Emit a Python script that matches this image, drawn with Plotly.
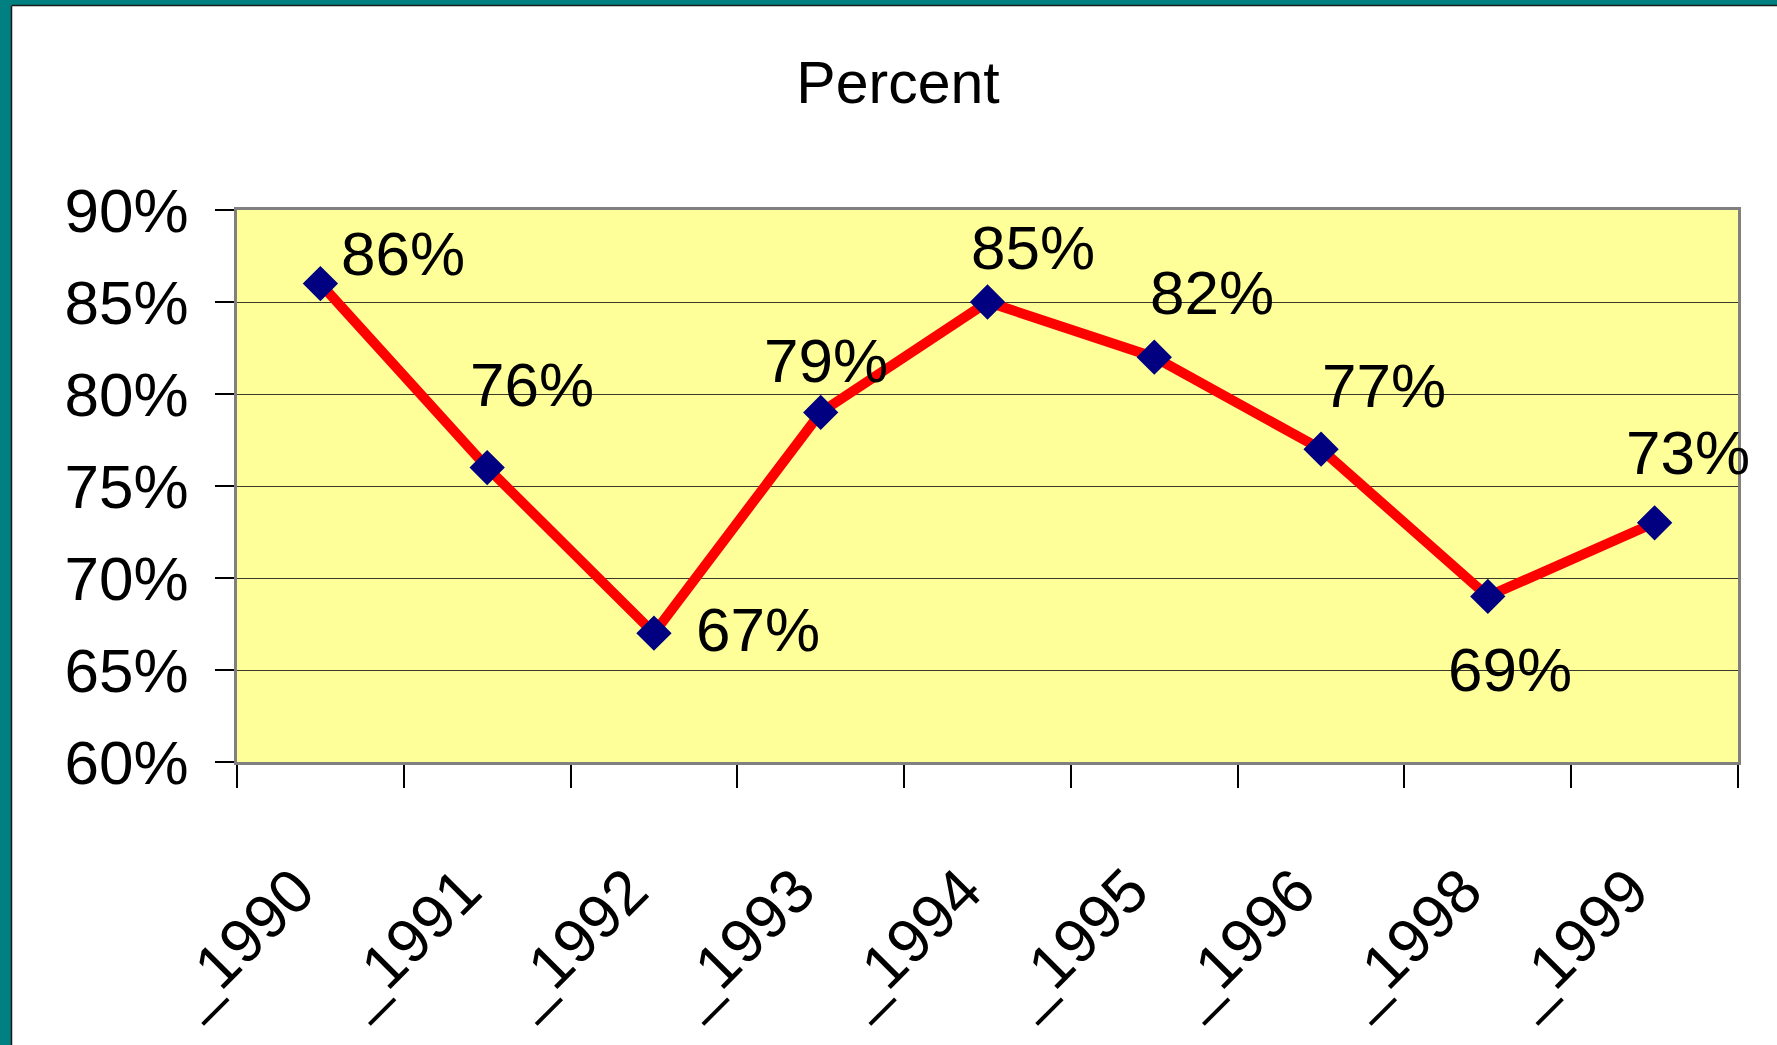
import plotly.graph_objects as go

# ---- data ----
years = ["_1990", "_1991", "_1992", "_1993", "_1994", "_1995", "_1996", "_1998", "_1999"]
values = [86, 76, 67, 79, 85, 82, 77, 69, 73]
value_labels = ["86%", "76%", "67%", "79%", "85%", "82%", "77%", "69%", "73%"]
y_ticks = [60, 65, 70, 75, 80, 85, 90]
y_tick_labels = ["60%", "65%", "70%", "75%", "80%", "85%", "90%"]
title_text = "Percent"

# label offsets (pixels) relative to their points
label_dx = [83, 45, 104, 5, 45, 58, 63, 22, 33]
label_dy = [30, 83, 4, 52, 55, 65, 64, -73, 70]

W, H = 1777, 1045
ML, MR, MT, MB = 237, 39, 210, 283
PW, PH = W - ML - MR, H - MT - MB

FONT = "Liberation Sans Narrow, Arial Narrow, Liberation Sans, Arial, sans-serif"
FS = 62

fig = go.Figure()
fig.add_trace(go.Scatter(
    x=years, y=values, mode="lines+markers",
    line=dict(color="#FF0000", width=10),
    marker=dict(symbol="diamond", size=25, color="#000080",
                line=dict(color="#000080", width=2)),
    hoverinfo="skip", showlegend=False, cliponaxis=False,
))

for x, v, t, dx, dy in zip(years, values, value_labels, label_dx, label_dy):
    fig.add_annotation(x=x, y=v, text=t, showarrow=False, xshift=dx, yshift=dy,
                       font=dict(family=FONT, size=FS, color="black"),
                       xanchor="center", yanchor="middle")

# teal window frame (left and top) with dark inner line
def px_x(p):
    return (p - ML) / PW
def px_y(p):
    return 1 - (p - MT) / PH

fig.add_shape(type="rect", xref="paper", yref="paper",
              x0=px_x(-5), x1=px_x(11), y0=px_y(H + 5), y1=px_y(-5),
              fillcolor="#008080", line=dict(width=0), layer="below")
fig.add_shape(type="rect", xref="paper", yref="paper",
              x0=px_x(-5), x1=px_x(W + 5), y0=px_y(5), y1=px_y(-5),
              fillcolor="#008080", line=dict(width=0), layer="below")
fig.add_shape(type="line", xref="paper", yref="paper",
              x0=px_x(11.5), x1=px_x(11.5), y0=px_y(H + 5), y1=px_y(5.5),
              line=dict(color="#1a1a1a", width=1.5))
fig.add_shape(type="line", xref="paper", yref="paper",
              x0=px_x(11.5), x1=px_x(W + 5), y0=px_y(5.5), y1=px_y(5.5),
              line=dict(color="#1a1a1a", width=1.5))

fig.update_layout(
    width=W, height=H,
    margin=dict(l=ML, r=MR, t=MT, b=MB, pad=0),
    paper_bgcolor="white",
    plot_bgcolor="#FFFF99",
    font=dict(family=FONT, color="black", size=FS),
    title=dict(text=title_text, x=898 / W, xref="container", xanchor="center",
               y=1 - 82 / H, yref="container", yanchor="middle",
               font=dict(family=FONT, size=59, color="black")),
    showlegend=False,
)

fig.update_xaxes(
    type="category", range=[-0.5, len(years) - 0.5], autorange=False,
    tickvals=years, ticktext=[y + "\u00a0\u00a0" for y in years],
    tickangle=-45, tickson="boundaries", ticklabelstandoff=40,
    ticks="outside", ticklen=23, tickwidth=1.5, tickcolor="#000000",
    showline=True, linecolor="#808080", linewidth=3, mirror=True,
    showgrid=False, tickfont=dict(family=FONT, size=FS, color="black"),
)
fig.update_yaxes(
    range=[60, 90], tickvals=y_ticks, ticktext=y_tick_labels,
    ticks="outside", ticklen=19, tickwidth=1.5, tickcolor="#000000",
    ticklabelstandoff=14,
    showline=True, linecolor="#808080", linewidth=3, mirror=True,
    showgrid=True, gridcolor="#3a3a2a", gridwidth=1.2,
    tickfont=dict(family=FONT, size=FS, color="black"),
    zeroline=False,
)

fig.write_html("out.html")
